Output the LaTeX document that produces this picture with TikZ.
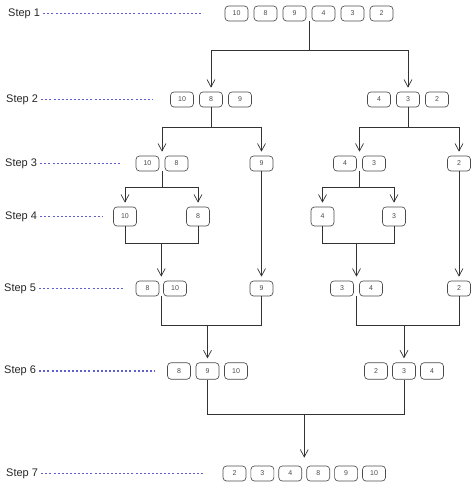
\documentclass[tikz,border=0pt]{standalone}
\usepackage{fontspec}
\setmainfont{Liberation Sans}
\usetikzlibrary{arrows.meta,calc}
\definecolor{dotblue}{RGB}{95,95,210}
\begin{document}
\begin{tikzpicture}[x=1pt,y=-1pt,
  box/.style={draw=black!70, line width=0.65pt, rounded corners=3.5pt, minimum width=23pt, minimum height=15pt, inner sep=0pt, font=\fontsize{7}{8}\selectfont, text=black!70},
  tall/.style={minimum height=19pt},
  mid/.style={minimum height=16.5pt},
  lbl/.style={anchor=west, font=\fontsize{11}{13}\selectfont, text=black!85, inner sep=0pt},
  dots/.style={draw=dotblue, line width=1.5pt, dash pattern=on 2pt off 2.1pt},
  ln/.style={draw=black!80, line width=0.7pt},
  arr/.style={ln, shorten >=4pt, -{Straight Barb[length=7.5pt,width=8pt]}},
]
\useasboundingbox (0,0) rectangle (474,485);

% step labels and dotted leaders
\node[lbl] (L1) at (8,13.5) {Step 1};
\node[lbl] (L2) at (6,99.5) {Step 2};
\node[lbl] (L3) at (5,163.5) {Step 3};
\node[lbl] (L4) at (5,216.5) {Step 4};
\node[lbl] (L5) at (4,288.5) {Step 5};
\node[lbl] (L6) at (4,371) {Step 6};
\node[lbl] (L7) at (6,473.5) {Step 7};
\coordinate (E1) at (203,13.5);
\coordinate (E2) at (153,99.5);
\coordinate (E3) at (122,163.5);
\coordinate (E4) at (103,216.5);
\coordinate (E5) at (123,288.5);
\coordinate (E6) at (155,371);
\coordinate (E7) at (203,473.5);
\foreach \i in {1,...,7}{\draw[dots] ([xshift=3pt]L\i.east) -- (E\i);}

% step 1
\node[box] (a1) at (236.5,13.5) {10};
\node[box] (a2) at (265.5,13.5) {8};
\node[box] (a3) at (294.5,13.5) {9};
\node[box] (a4) at (323.5,13.5) {4};
\node[box] (a5) at (352.5,13.5) {3};
\node[box] (a6) at (381.5,13.5) {2};

% step 2
\node[box] (b1) at (182,99.5) {10};
\node[box] (b2) at (211,99.5) {8};
\node[box] (b3) at (240,99.5) {9};
\node[box] (c1) at (379,99.5) {4};
\node[box] (c2) at (408,99.5) {3};
\node[box] (c3) at (437,99.5) {2};

% step 3
\node[box] (d1) at (147.5,163.5) {10};
\node[box] (d2) at (176.5,163.5) {8};
\node[box] (d3) at (261.5,163.5) {9};
\node[box] (e1) at (345,163.5) {4};
\node[box] (e2) at (374,163.5) {3};
\node[box] (e3) at (459,163.5) {2};

% step 4
\node[box,tall] (f1) at (125,216.5) {10};
\node[box,tall] (f2) at (198,216.5) {8};
\node[box,tall] (h1) at (322.5,216.5) {4};
\node[box,tall] (h2) at (394,216.5) {3};

% step 5
\node[box] (p1) at (147.5,288.5) {8};
\node[box] (p2) at (175,288.5) {10};
\node[box] (p3) at (261.5,288.5) {9};
\node[box] (q1) at (342,288.5) {3};
\node[box] (q2) at (371,288.5) {4};
\node[box] (q3) at (459,288.5) {2};

% step 6
\node[box,mid] (r1) at (179,371) {8};
\node[box,mid] (r2) at (207.5,371) {9};
\node[box,mid] (r3) at (236,371) {10};
\node[box,mid] (s1) at (376,371) {2};
\node[box,mid] (s2) at (404,371) {3};
\node[box,mid] (s3) at (432,371) {4};

% step 7
\node[box] (t1) at (234.5,473.5) {2};
\node[box] (t2) at (262.4,473.5) {3};
\node[box] (t3) at (290.3,473.5) {4};
\node[box] (t4) at (318.2,473.5) {8};
\node[box] (t5) at (346.1,473.5) {9};
\node[box] (t6) at (374,473.5) {10};

% step 1 -> 2
\coordinate (g1) at ($(a3.south east)!0.5!(a4.south west)$);
\coordinate (j1) at (g1 |- 0,50);
\coordinate (j1l) at (b2 |- 0,50);
\coordinate (j1r) at (c2 |- 0,50);
\draw[ln] (g1) -- (j1);
\draw[ln] (j1l) -- (j1r);
\draw[arr] (j1l) -- (b2.north);
\draw[arr] (j1r) -- (c2.north);

% step 2 -> 3
\coordinate (gd) at ($(d1.south east)!0.5!(d2.south west)$);
\coordinate (ge) at ($(e1.south east)!0.5!(e2.south west)$);
\coordinate (k2l) at (gd |- 0,127);
\coordinate (k2r) at (d3 |- 0,127);
\coordinate (k2m) at (b2 |- 0,127);
\draw[ln] (b2.south) -- (k2m);
\draw[ln] (k2l) -- (k2r);
\draw[arr] (k2l) -- (gd |- d1.north);
\draw[arr] (k2r) -- (d3.north);
\coordinate (n2l) at (ge |- 0,127);
\coordinate (n2r) at (e3 |- 0,127);
\coordinate (n2m) at (c2 |- 0,127);
\draw[ln] (c2.south) -- (n2m);
\draw[ln] (n2l) -- (n2r);
\draw[arr] (n2l) -- (ge |- e1.north);
\draw[arr] (n2r) -- (e3.north);

% step 3 -> 4
\coordinate (k3m) at (gd |- 0,187);
\coordinate (k3l) at (f1 |- 0,187);
\coordinate (k3r) at (f2 |- 0,187);
\draw[ln] (gd) -- (k3m);
\draw[ln] (k3l) -- (k3r);
\draw[arr] (k3l) -- (f1.north);
\draw[arr] (k3r) -- (f2.north);
\coordinate (n3m) at (ge |- 0,187);
\coordinate (n3l) at (h1 |- 0,187);
\coordinate (n3r) at (h2 |- 0,187);
\draw[ln] (ge) -- (n3m);
\draw[ln] (n3l) -- (n3r);
\draw[arr] (n3l) -- (h1.north);
\draw[arr] (n3r) -- (h2.north);

% long single lines
\draw[arr] (d3.south) -- (p3.north);
\draw[arr] (e3.south) -- (q3.north);

% step 4 -> 5
\coordinate (gp) at ($(p1.south east)!0.5!(p2.south west)$);
\coordinate (gq) at ($(q1.south east)!0.5!(q2.south west)$);
\coordinate (m4) at (gp |- 0,243);
\draw[ln] (f1.south) -- (f1.south |- m4) -- (f2.south |- m4) -- (f2.south);
\draw[arr] (m4) -- (gp |- p1.north);
\coordinate (w4) at (gq |- 0,243);
\draw[ln] (h1.south) -- (h1.south |- w4) -- (h2.south |- w4) -- (h2.south);
\draw[arr] (w4) -- (gq |- q1.north);

% step 5 -> 6
\coordinate (m5) at (r2 |- 0,325);
\draw[ln] (gp) -- (gp |- m5) -- (p3.south |- m5) -- (p3.south);
\draw[arr] (m5) -- (r2.north);
\coordinate (w5) at (s2 |- 0,325);
\draw[ln] (gq) -- (gq |- w5) -- (q3.south |- w5) -- (q3.south);
\draw[arr] (w5) -- (s2.north);

% step 6 -> 7
\coordinate (gt) at ($(t3.north east)!0.5!(t4.north west)$);
\coordinate (m6) at (gt |- 0,414);
\draw[ln] (r2.south) -- (r2.south |- m6) -- (s2.south |- m6) -- (s2.south);
\draw[arr, shorten >=8pt] (m6) -- (gt);
\end{tikzpicture}
\end{document}
